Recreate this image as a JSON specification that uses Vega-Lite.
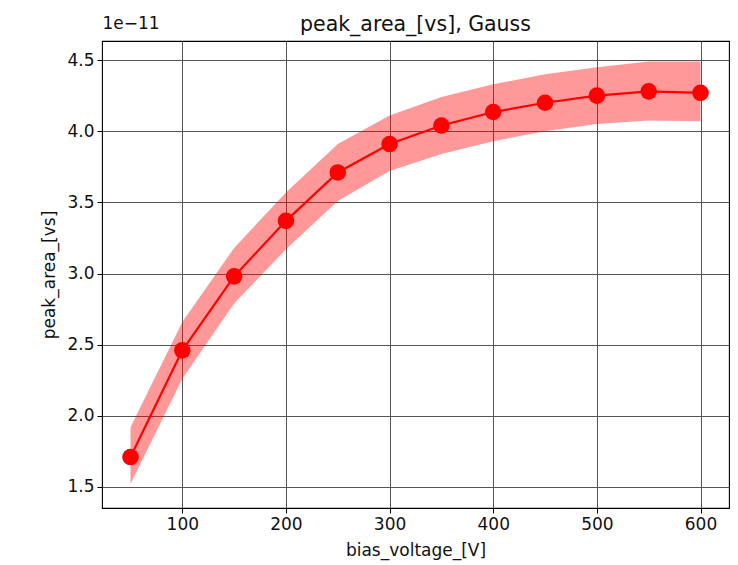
{
  "$schema": "https://vega.github.io/schema/vega-lite/v6.json",
  "width": 627,
  "height": 467,
  "autosize": "none",
  "padding": {"left": 102, "top": 41, "right": 9, "bottom": 57},
  "background": "white",
  "title": {"text": "peak_area_[vs], Gauss", "font": "DejaVu Sans", "fontSize": 20.5, "fontWeight": "normal", "color": "#111", "baseline": "alphabetic", "offset": -37, "anchor": "middle"},
  "config": {
    "view": {"stroke": "black", "strokeWidth": 1.1},
    "axis": {"labelFont": "DejaVu Sans", "titleFont": "DejaVu Sans", "labelFontSize": 17, "titleFontSize": 17, "labelColor": "#111", "titleColor": "#111", "titleFontWeight": "normal", "tickColor": "black", "tickSize": 5, "tickWidth": 1, "domain": false, "gridColor": "#555", "gridWidth": 1, "gridOpacity": 1}
  },
  "data": {"values": [
    {"bias_voltage": 50, "peak_area": 1.71e-11, "lo": 1.52e-11, "hi": 1.92e-11},
    {"bias_voltage": 100, "peak_area": 2.46e-11, "lo": 2.26e-11, "hi": 2.66e-11},
    {"bias_voltage": 150, "peak_area": 2.98e-11, "lo": 2.79e-11, "hi": 3.18e-11},
    {"bias_voltage": 200, "peak_area": 3.37e-11, "lo": 3.17e-11, "hi": 3.57e-11},
    {"bias_voltage": 250, "peak_area": 3.71e-11, "lo": 3.51e-11, "hi": 3.91e-11},
    {"bias_voltage": 300, "peak_area": 3.91e-11, "lo": 3.72e-11, "hi": 4.11e-11},
    {"bias_voltage": 350, "peak_area": 4.04e-11, "lo": 3.84e-11, "hi": 4.24e-11},
    {"bias_voltage": 400, "peak_area": 4.135e-11, "lo": 3.93e-11, "hi": 4.33e-11},
    {"bias_voltage": 450, "peak_area": 4.20e-11, "lo": 4.00e-11, "hi": 4.40e-11},
    {"bias_voltage": 500, "peak_area": 4.25e-11, "lo": 4.05e-11, "hi": 4.45e-11},
    {"bias_voltage": 550, "peak_area": 4.28e-11, "lo": 4.075e-11, "hi": 4.49e-11},
    {"bias_voltage": 600, "peak_area": 4.27e-11, "lo": 4.07e-11, "hi": 4.49e-11}
  ]},
  "resolve": {"axis": {"x": "independent"}},
  "layer": [
    {
      "mark": {"type": "area", "color": "red", "opacity": 0.4},
      "encoding": {
        "x": {"field": "bias_voltage", "type": "quantitative", "scale": {"domain": [22.5, 627.5], "nice": false, "zero": false},
              "axis": {"orient": "bottom", "title": "bias_voltage_[V]", "values": [100, 200, 300, 400, 500, 600], "grid": true, "labelPadding": 3, "titlePadding": 10}},
        "y": {"field": "lo", "type": "quantitative", "scale": {"domain": [1.352e-11, 4.634e-11], "nice": false, "zero": false},
              "axis": {"title": "peak_area_[vs]", "values": [1.5e-11, 2.0e-11, 2.5e-11, 3.0e-11, 3.5e-11, 4.0e-11, 4.5e-11], "labelExpr": "format(datum.value*1e11, '.1f')", "grid": true, "labelPadding": 3, "titlePadding": 8}},
        "y2": {"field": "hi"}
      }
    },
    {
      "mark": {"type": "line", "color": "red", "strokeWidth": 2.2},
      "encoding": {
        "x": {"field": "bias_voltage", "type": "quantitative",
              "axis": {"orient": "top", "title": "1e\u221211", "labels": false, "ticks": false, "grid": false, "titleAnchor": "start", "titleAlign": "left", "titleBaseline": "alphabetic", "titleX": 0, "titleY": -13}},
        "y": {"field": "peak_area", "type": "quantitative"}
      }
    },
    {
      "mark": {"type": "point", "filled": true, "color": "red", "opacity": 1, "size": 275, "shape": "circle"},
      "encoding": {
        "x": {"field": "bias_voltage", "type": "quantitative", "axis": null},
        "y": {"field": "peak_area", "type": "quantitative"}
      }
    }
  ]
}
